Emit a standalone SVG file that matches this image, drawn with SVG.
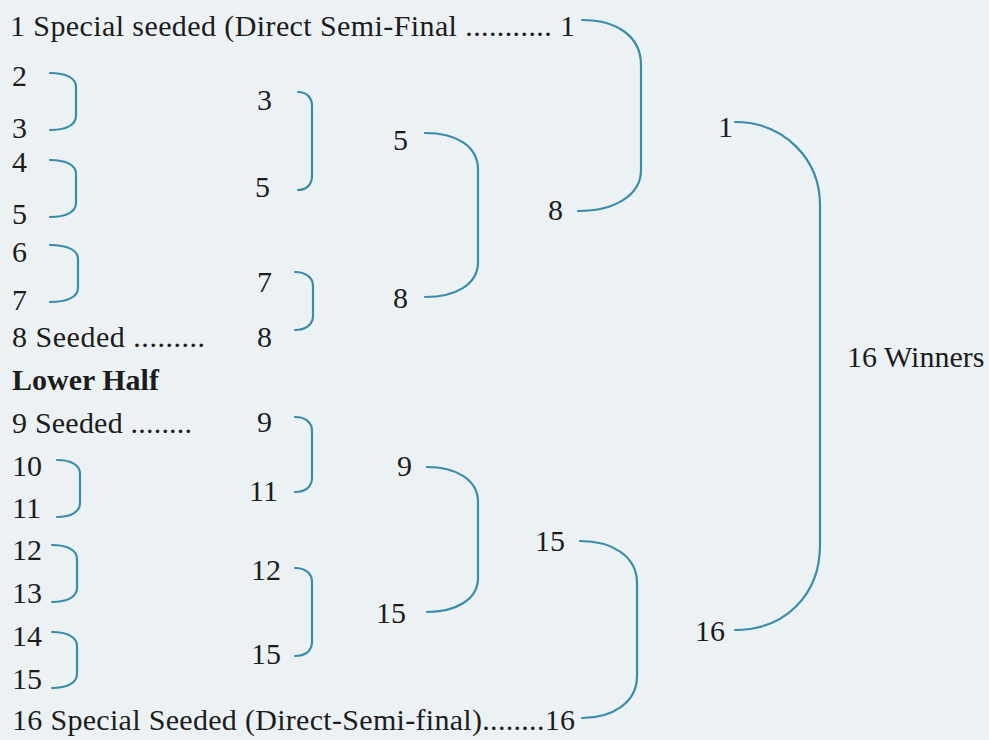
<svg xmlns="http://www.w3.org/2000/svg" width="989" height="740" viewBox="0 0 989 740">
<style>
text{font-family:"Liberation Serif","DejaVu Serif",serif;font-size:30px;fill:#1c1c1c}
.b{font-weight:bold}
.c path{fill:none;stroke:#3a8da8;stroke-width:2.2;stroke-linecap:round}
</style>
<rect width="989" height="740" fill="#ecf2f4"/>
<g id="round1">
<text x="10" y="36" textLength="565" lengthAdjust="spacing">1 Special seeded (Direct Semi-Final ........... 1</text>
<text x="12" y="86">2</text>
<text x="12" y="138">3</text>
<text x="12" y="172">4</text>
<text x="12" y="224">5</text>
<text x="12" y="262">6</text>
<text x="12" y="310">7</text>
<text x="12" y="347" textLength="193" lengthAdjust="spacing">8 Seeded .........</text>
<text x="12" y="390" class="b">Lower Half</text>
<text x="12" y="433" textLength="180" lengthAdjust="spacing">9 Seeded ........</text>
<text x="12" y="476">10</text>
<text x="12" y="518">11</text>
<text x="12" y="560">12</text>
<text x="12" y="603">13</text>
<text x="12" y="646">14</text>
<text x="12" y="689">15</text>
<text x="12" y="730" textLength="563" lengthAdjust="spacing">16 Special Seeded (Direct-Semi-final)........16</text>
</g>
<g id="round2">
<text x="257" y="110">3</text>
<text x="255" y="197">5</text>
<text x="257" y="292">7</text>
<text x="257" y="347">8</text>
<text x="257" y="432">9</text>
<text x="249" y="501">11</text>
<text x="251" y="580">12</text>
<text x="251" y="664">15</text>
</g>
<g id="round3">
<text x="393" y="150">5</text>
<text x="393" y="308">8</text>
<text x="397" y="476">9</text>
<text x="376" y="623">15</text>
</g>
<g id="round4">
<text x="548" y="220">8</text>
<text x="535" y="551">15</text>
</g>
<g id="round5">
<text x="718" y="137">1</text>
<text x="695" y="641">16</text>
</g>
<g id="winners">
<text x="847" y="367">16 Winners</text>
</g>
<g id="connectors" class="c">
<path d="M50 73 C66 73 76 78 76 87 V116 C76 125 66 130 50 130"/>
<path d="M50 160 C66 160 76 165 76 174 V203 C76 212 66 217 50 217"/>
<path d="M50 245 C67 245 78 250 78 259 V288 C78 297 67 302 50 302"/>
<path d="M57 460 C71 460 80 465 80 474 V503 C80 512 71 517 57 517"/>
<path d="M52 545 C67 545 77 550 77 559 V588 C77 597 67 602 52 602"/>
<path d="M52 632 C67 632 77 637 77 646 V674 C77 683 67 688 52 688"/>
<path d="M298 92 C306 92 312 97 312 106 V176 C312 185 306 190 298 190"/>
<path d="M295 272 C305 272 313 277 313 286 V316 C313 325 305 330 295 330"/>
<path d="M295 417 C305 417 312 422 312 431 V478 C312 487 305 492 295 492"/>
<path d="M295 568 C305 568 312 573 312 582 V642 C312 651 305 656 295 656"/>
<path d="M425 133 C455 133 478 145 478 170 V262 C478 285 455 297 425 297"/>
<path d="M427 467 C455 467 478 479 478 502 V578 C478 600 455 612 427 612"/>
<path d="M582 20 C615 20 641 35 641 65 V170 C641 195 615 211 578 211"/>
<path d="M580 541 C612 541 637 556 637 583 V676 C637 703 612 718 582 718"/>
<path d="M735 122 C785 122 820 160 820 205 V545 C820 595 785 630 735 630"/>
</g>
</svg>
